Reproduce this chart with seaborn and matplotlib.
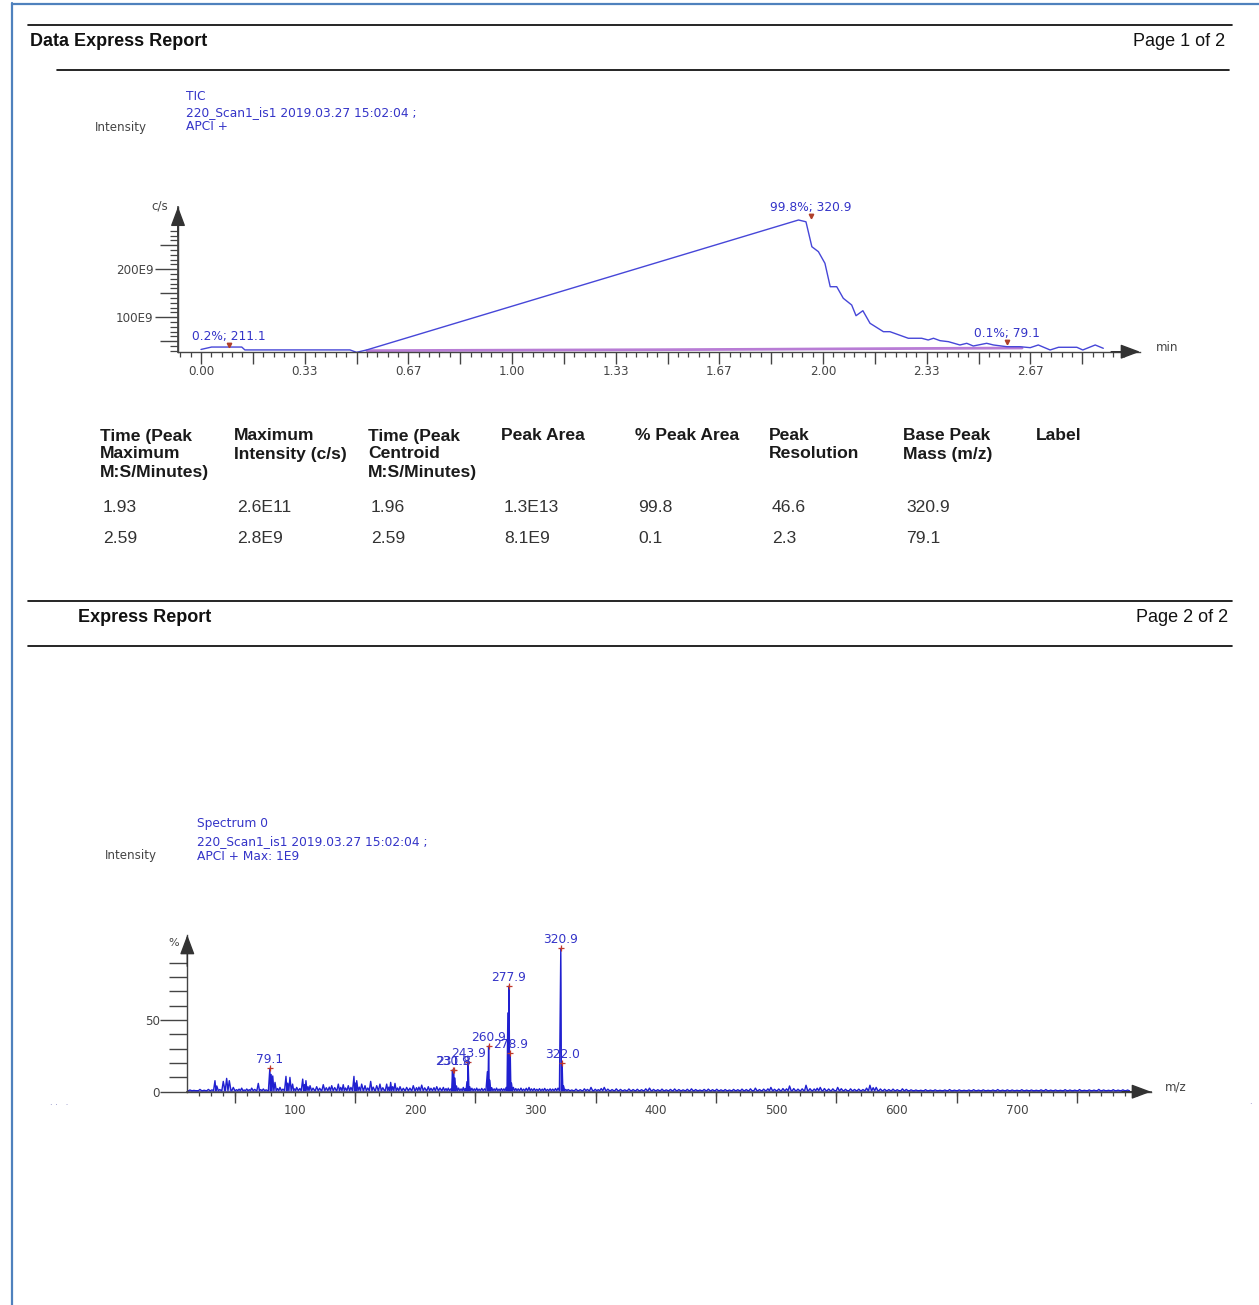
import numpy as np
import pandas as pd
import matplotlib
matplotlib.use("Agg")
import matplotlib.pyplot as plt
import seaborn as sns
from matplotlib.lines import Line2D
from matplotlib.ticker import FixedLocator, NullFormatter

# ---------------- data ----------------
# TIC chromatogram (time in min, intensity in units of 1E9 c/s)
tic_time = [0.00, 0.034, 0.131, 0.141, 0.479, 0.50, 0.533, 1.921, 1.945, 1.964,
            1.985, 2.006, 2.023, 2.044, 2.065, 2.092, 2.106, 2.128, 2.151, 2.194,
            2.215, 2.274, 2.317, 2.338, 2.355, 2.376, 2.403, 2.440, 2.462, 2.483,
            2.526, 2.548, 2.591, 2.633, 2.666, 2.692, 2.730, 2.757, 2.816, 2.835,
            2.875, 2.901]
tic_cps = [33, 38, 38, 32, 32, 27, 32, 302.7, 299, 247,
           236.7, 212.5, 163.7, 163.7, 139.6, 125.6, 103.3, 113.7, 87.5, 70,
           70, 56.3, 56.3, 52.7, 56.3, 51.3, 49.2, 42.3, 45.8, 40.2,
           45.8, 42.3, 38.7, 38.7, 36.7, 42.3, 31.9, 37.5, 37.5, 31.9,
           42.3, 35.4]
tic_base_time = [0.533, 1.0, 1.5, 1.85, 2.0, 2.3, 2.64]
tic_base_cps = [30.5, 31.5, 32.5, 33.5, 34.0, 35.0, 36.0]
tic_peak_time = [0.09, 1.96, 2.59]
tic_peak_cps = [42.3, 311.0, 48.5]
tic_peak_text = ["0.2%; 211.1", "99.8%; 320.9", "0.1%; 79.1"]
tic_xtick_labels = ["0.00", "0.33", "0.67", "1.00", "1.33", "1.67", "2.00", "2.33", "2.67"]
tic_ytick_values = [100, 200]
tic_ytick_labels = ["100E9", "200E9"]

# Mass spectrum (m/z, % relative intensity)
spec_low = [(12.7, 1.2), (16.0, 0.9), (21.0, 1.6), (24.5, 1.0), (28.0, 1.6), (31.0, 1.3),
            (33.5, 7.7), (35.0, 4.0), (37.5, 1.5), (40.4, 7.2), (43.2, 9.3), (45.4, 7.7),
            (48.7, 3.0), (51.5, 1.4), (53.5, 1.8), (55.7, 2.5), (57.8, 1.2), (59.9, 1.9),
            (62.0, 1.4), (64.0, 2.5), (66.5, 1.6), (69.5, 5.8), (71.5, 1.5), (73.7, 1.9),
            (76.0, 1.3), (79.1, 16.3), (80.2, 12.0), (81.5, 11.0), (83.4, 6.5), (85.5, 2.2),
            (87.5, 3.0), (90.0, 1.8), (92.5, 10.7), (94.0, 6.0), (95.8, 10.0), (98.0, 5.3),
            (99.8, 2.0)]
spec_mid = [(101.4, 3.0), (104.0, 2.2), (106.4, 8.8), (108.0, 5.0), (109.1, 7.7), (110.8, 3.5),
            (112.5, 4.2), (115.0, 2.5), (118.0, 3.5), (120.5, 2.4), (123.5, 4.9), (126.0, 2.8),
            (128.5, 3.2), (130.5, 4.2), (133.0, 2.9), (136.0, 5.3), (138.0, 3.0), (140.1, 4.9),
            (142.0, 2.6), (144.3, 4.2), (146.5, 3.0), (149.0, 10.7), (150.2, 6.0), (151.3, 7.7),
            (153.4, 3.2), (155.4, 5.3), (158.2, 4.2), (160.5, 2.6), (162.9, 7.2), (165.0, 3.2),
            (167.9, 4.2), (170.6, 5.3), (173.0, 2.8), (176.2, 5.3), (178.0, 3.2), (179.5, 6.5),
            (181.2, 3.5), (183.1, 5.8), (185.2, 2.6), (187.3, 3.5), (190.0, 2.4), (192.8, 3.0),
            (195.5, 2.5), (198.3, 4.2), (201.0, 2.8), (203.0, 3.2), (205.3, 4.6), (207.8, 2.7),
            (210.8, 3.5), (213.0, 2.4), (215.5, 2.8), (217.8, 3.5), (220.5, 2.6), (223.3, 3.0),
            (225.5, 2.2), (227.4, 2.5), (229.5, 2.0), (230.9, 15.1), (231.8, 14.5), (232.9, 9.5),
            (234.2, 4.0), (236.0, 2.5), (238.0, 2.0), (239.9, 3.0), (241.5, 2.2), (242.9, 7.0),
            (243.9, 21.0), (245.2, 3.5), (247.0, 2.4), (249.0, 2.0)]
spec_main = [(251.0, 2.5), (253.0, 1.8), (255.2, 2.3), (257.5, 2.0), (259.9, 14.0), (260.9, 31.8),
             (261.9, 8.0), (263.5, 2.8), (265.5, 2.0), (267.5, 2.5), (269.6, 1.8), (271.5, 2.2),
             (273.6, 2.0), (275.5, 3.0), (276.9, 55.0), (277.9, 73.8), (278.9, 26.8), (279.9, 6.0),
             (281.5, 3.0), (283.5, 2.2), (285.5, 2.0), (287.8, 2.5), (290.0, 1.8), (292.2, 2.4),
             (294.5, 3.0), (296.5, 2.0), (298.8, 2.2), (301.0, 1.7), (303.2, 2.1), (305.5, 1.8),
             (307.5, 2.3), (309.8, 1.6), (312.0, 2.0), (314.2, 1.8), (316.5, 2.2), (318.6, 2.5),
             (320.9, 100.0), (322.0, 20.2), (323.2, 4.0), (325.0, 1.6)]
spec_high = [(327, 1.5), (330, 1.2), (333.5, 1.8), (337, 1.4), (340.5, 2.0), (343, 1.6), (346, 3.0),
             (349.5, 1.7), (352, 1.4), (354.5, 2.2), (357, 3.0), (360, 1.8), (363.5, 1.5), (367, 2.0),
             (370.5, 1.6), (374, 1.3), (377.5, 1.9), (381, 1.5), (384.5, 1.7), (388, 1.4), (391.5, 2.0),
             (394.6, 2.5), (398, 1.6), (401.5, 1.4), (405, 1.8), (408.5, 1.3), (412, 1.6), (415.5, 1.9),
             (419, 1.5), (422.5, 1.3), (426, 1.7), (429.5, 2.0), (433, 1.5), (436.5, 1.2), (440, 1.6),
             (443.5, 1.8), (447, 1.4), (450.5, 1.7), (454, 1.3), (457.5, 1.5), (461, 1.2), (464.5, 1.6),
             (468, 1.4), (471.5, 1.8), (475, 1.5), (478.5, 2.0), (482.6, 2.5), (486, 1.5), (489.5, 1.8),
             (493, 2.0), (495.5, 3.0), (498.5, 1.7), (502, 1.9), (505.5, 2.2), (508.5, 2.0), (511, 4.0),
             (514.5, 2.2), (518, 1.8), (521.5, 2.0), (524.7, 4.5), (528, 2.1), (531.5, 1.9), (534, 2.4),
             (536.5, 3.0), (540, 2.2), (543.5, 1.9), (547, 2.0), (551, 3.0), (554, 2.1), (557.5, 1.7),
             (561.7, 2.0), (565, 1.6), (568.5, 1.8), (572, 1.5), (575, 2.5), (577.8, 4.5), (580.5, 2.8),
             (583, 3.0), (586.5, 1.9), (590, 1.7), (593.5, 1.5), (597, 1.8), (600.5, 1.4), (604.8, 2.0),
             (608, 1.6), (612, 1.3), (616, 1.2), (620, 1.0), (624, 1.4), (628, 1.1), (632, 1.3),
             (636, 1.0), (640, 1.2), (644, 1.5), (648, 1.1), (652, 1.3), (656, 1.0), (660, 1.2),
             (664, 1.4), (668, 1.1), (672, 1.3), (676, 1.0), (680, 1.2), (684, 1.5), (688, 1.1),
             (692, 1.3), (696, 1.2), (700, 1.0), (704, 1.4), (708, 1.1), (712, 1.2), (716, 1.0),
             (720, 1.3), (724, 1.5), (728, 1.1), (732, 1.2), (736, 1.0), (740, 1.4), (744, 1.2),
             (748, 1.1), (752, 1.5), (756, 1.0), (760, 1.3), (764, 1.1), (768, 1.6), (772, 1.2),
             (776, 1.0), (780, 1.4), (784, 1.1), (788, 1.3), (792, 1.2)]
spec_label_mz = [79.1, 230.9, 231.8, 243.9, 260.9, 277.9, 278.9, 320.9, 322.0]
spec_label_pct = [16.3, 15.1, 15.1, 21.0, 31.8, 73.8, 26.8, 100.0, 20.2]
spec_label_text = ["79.1", "230.9", "231.8", "243.9", "260.9", "277.9", "278.9", "320.9", "322.0"]
spec_xtick_values = [100, 200, 300, 400, 500, 600, 700]
spec_xtick_labels = ["100", "200", "300", "400", "500", "600", "700"]
spec_ytick_values = [0, 50]
spec_ytick_labels = ["0", "50"]

# Peak table
table_headers = [["Time (Peak", "Maximum", "M:S/Minutes)"],
                 ["Maximum", "Intensity (c/s)"],
                 ["Time (Peak", "Centroid", "M:S/Minutes)"],
                 ["Peak Area"],
                 ["% Peak Area"],
                 ["Peak", "Resolution"],
                 ["Base Peak", "Mass (m/z)"],
                 ["Label"]]
table_rows = [["1.93", "2.6E11", "1.96", "1.3E13", "99.8", "46.6", "320.9", ""],
              ["2.59", "2.8E9", "2.59", "8.1E9", "0.1", "2.3", "79.1", ""]]

# ---------------- figure ----------------
sns.set_theme(style="white")
plt.rcParams["font.family"] = ["DejaVu Sans"]

W, H = 1259, 1305
fig = plt.figure(figsize=(W / 100, H / 100), dpi=100)
fig.patch.set_facecolor("white")


def fx(x):
    return x / W


def fy(y):
    return 1 - y / H


def add_axes_px(l, t, r, b):
    return fig.add_axes([fx(l), fy(b), (r - l) / W, (b - t) / H])


def hline(y, x0, x1, color="black", lw=1.2):
    fig.add_artist(Line2D([fx(x0), fx(x1)], [fy(y), fy(y)], color=color, lw=lw,
                          transform=fig.transFigure))


def vline(x, y0, y1, color="black", lw=1.2):
    fig.add_artist(Line2D([fx(x), fx(x)], [fy(y0), fy(y1)], color=color, lw=lw,
                          transform=fig.transFigure))


def ftext(x, y, s, **kw):
    fig.text(fx(x), fy(y), s, **kw)


BLUE_TXT = "#3434c8"
AX_COL = "#444444"
HDR_FONT = ["Liberation Sans", "DejaVu Sans"]

# page border and report headers
vline(12, 3, 1305, color="#4f81bd", lw=1.6)
hline(4, 12, 1259, color="#4f81bd", lw=1.6)

hline(25, 28, 1232)
ftext(30, 42, "Data Express Report", fontsize=13, fontweight="bold", family=HDR_FONT,
      va="center", ha="left", color="#111111")
ftext(1225, 42, "Page 1 of 2", fontsize=13, family=HDR_FONT, va="center", ha="right",
      color="#111111")
hline(70, 57, 1229)

hline(601, 28, 1232)
ftext(78, 618, "Express Report", fontsize=13, fontweight="bold", family=HDR_FONT,
      va="center", ha="left", color="#111111")
ftext(1228, 618, "Page 2 of 2", fontsize=13, family=HDR_FONT, va="center", ha="right",
      color="#111111")
hline(646, 28, 1232)

# chart captions
ftext(186, 96, "TIC", fontsize=8.8, color=BLUE_TXT, va="center")
ftext(186, 113, "220_Scan1_is1 2019.03.27 15:02:04 ;", fontsize=8.8, color=BLUE_TXT, va="center")
ftext(186, 127, "APCI +", fontsize=8.8, color=BLUE_TXT, va="center")
ftext(95, 128, "Intensity", fontsize=8.6, color="#444444", va="center")
ftext(160, 206, "c/s", fontsize=8.6, color="#444444", va="center", ha="center")
ftext(1156, 348, "min", fontsize=8.6, color="#444444", va="center", ha="left")

ftext(197, 824, "Spectrum 0", fontsize=8.8, color=BLUE_TXT, va="center")
ftext(197, 842, "220_Scan1_is1 2019.03.27 15:02:04 ;", fontsize=8.8, color=BLUE_TXT, va="center")
ftext(197, 856, "APCI + Max: 1E9", fontsize=8.8, color=BLUE_TXT, va="center")
ftext(105, 856, "Intensity", fontsize=8.6, color="#444444", va="center")
ftext(174, 943, "%", fontsize=8, color="#444444", va="center", ha="center")
ftext(1165, 1087, "m/z", fontsize=8.6, color="#444444", va="center", ha="left")
ftext(50, 1105, "\u00b7 \u00b7   \u00b7", fontsize=6, color="#7777bb", va="center")
ftext(1249, 1105, "\u00b7", fontsize=6, color="#7777bb", va="center")

# table
col_x = [100, 234, 368, 501, 635, 769, 903, 1036]
for cx, lines in zip(col_x, table_headers):
    for i, s in enumerate(lines):
        ftext(cx, 436 + 18 * i, s, fontsize=12.6, fontweight="bold", family=HDR_FONT,
              va="center", ha="left", color="#1a1a1a")
for r, row in enumerate(table_rows):
    for cx, s in zip(col_x, row):
        ftext(cx + 3, 508 + 30 * r, s, fontsize=12.6, family=HDR_FONT, va="center",
              ha="left", color="#333333")


def style_axes(ax):
    ax.patch.set_alpha(0)
    for side in ("top", "right"):
        ax.spines[side].set_visible(False)
    for side in ("left", "bottom"):
        ax.spines[side].set_color(AX_COL)
        ax.spines[side].set_linewidth(1.0)
    ax.grid(False)
    ax.set_xlabel("")
    ax.set_ylabel("")
    kw = dict(arrowstyle="-|>,head_length=1.2,head_width=0.45", mutation_scale=10,
              color="#333333", lw=1, shrinkA=0, shrinkB=0)
    ax.annotate("", xy=(0, 1), xycoords="axes fraction", xytext=(0, 0.8),
                textcoords="axes fraction", arrowprops=kw, annotation_clip=False)
    ax.annotate("", xy=(1, 0), xycoords="axes fraction", xytext=(0.97, 0),
                textcoords="axes fraction", arrowprops=kw, annotation_clip=False)


# ---------------- TIC chromatogram ----------------
ax1 = add_axes_px(178, 206.7, 1140, 351.7)
tic_df = pd.DataFrame({"time": tic_time, "cps": tic_cps})
base_df = pd.DataFrame({"time": tic_base_time, "cps": tic_base_cps})
sns.lineplot(data=base_df, x="time", y="cps", ax=ax1, color="#a050c8", lw=2.0, alpha=0.75,
             sort=False, estimator=None)
sns.lineplot(data=tic_df, x="time", y="cps", ax=ax1, color="#4646d8", lw=1.0,
             sort=False, estimator=None)
ax1.set_xlim(-0.074, 3.019)
ax1.set_ylim(28.3, 330.4)
style_axes(ax1)

major_x = [k / 6 for k in range(0, 18)]
major_lbl = []
for k in range(0, 18):
    major_lbl.append(tic_xtick_labels[k // 2] if k % 2 == 0 and k // 2 < len(tic_xtick_labels) else "")
ax1.set_xticks(major_x, major_lbl)
ax1.xaxis.set_minor_locator(FixedLocator([k / 30 for k in range(-2, 90)]))
ax1.tick_params(axis="x", which="major", direction="out", length=8.4, width=1, color=AX_COL,
                bottom=True, pad=1.2, labelsize=8.6, labelcolor="#444444")
ax1.tick_params(axis="x", which="minor", direction="out", length=3.6, width=0.9, color=AX_COL,
                bottom=True)

ax1.yaxis.set_major_locator(FixedLocator([50, 150, 250]))
ax1.yaxis.set_major_formatter(NullFormatter())
ax1.yaxis.set_minor_locator(FixedLocator([v for v in range(30, 290, 10) if v % 50]))
ax1.tick_params(axis="y", which="major", direction="out", length=12.7, width=1, color=AX_COL, left=True)
ax1.tick_params(axis="y", which="minor", direction="out", length=6.0, width=0.9, color=AX_COL, left=True)
sec1 = ax1.secondary_yaxis("left")
sec1.set_yticks(tic_ytick_values, tic_ytick_labels)
sec1.tick_params(axis="y", direction="out", length=16.5, width=1, color=AX_COL, pad=1,
                 labelsize=8.6, labelcolor="#444444")
sec1.spines["left"].set_color(AX_COL)

ax1.plot(tic_peak_time, tic_peak_cps, ls="none", marker="v", ms=3.2, color="#b0402a", clip_on=False)
for t, v, s in zip(tic_peak_time, tic_peak_cps, tic_peak_text):
    ax1.annotate(s, xy=(t, v), xytext=(0, 1.5), textcoords="offset points", ha="center",
                 va="bottom", fontsize=8.8, color=BLUE_TXT, annotation_clip=False)

# ---------------- Mass spectrum ----------------
ax2 = add_axes_px(187.3, 935, 1151, 1091.7)
peaks = np.array(spec_low + spec_mid + spec_main + spec_high)
order = np.argsort(peaks[:, 0])
pmz, ppct = peaks[order, 0], peaks[order, 1]
gaps = np.diff(pmz)
lg = np.r_[2.0, gaps]
rg = np.r_[gaps, 2.0]
hw_left = np.minimum(1.2, 0.5 * lg)
hw_right = np.minimum(1.4, 0.5 * rg)
base = 0.7
prof_x = np.column_stack([pmz - hw_left, pmz, pmz + hw_right]).ravel()
prof_y = np.column_stack([np.full_like(ppct, base), ppct, np.full_like(ppct, base)]).ravel()
prof_x = np.r_[pmz[0] - 1.5, prof_x, pmz[-1] + 1.5]
prof_y = np.r_[base, prof_y, base]
spec_df = pd.DataFrame({"mz": prof_x, "pct": prof_y})
ax2.fill_between(prof_x, 0, prof_y, color="#6a6ae0", alpha=0.4, lw=0)
sns.lineplot(data=spec_df, x="mz", y="pct", ax=ax2, color="#2020d0", lw=1.0,
             sort=False, estimator=None)
ax2.set_xlim(10.5, 811.4)
ax2.set_ylim(0, 109.4)
style_axes(ax2)

ax2.set_xticks(spec_xtick_values, spec_xtick_labels)
ax2.xaxis.set_minor_locator(FixedLocator(list(range(20, 801, 10))))
ax2.tick_params(axis="x", which="major", direction="out", length=3.0, width=0.9, color=AX_COL,
                bottom=True, pad=5.6, labelsize=8.6, labelcolor="#444444")
ax2.tick_params(axis="x", which="minor", direction="out", length=3.0, width=0.9, color=AX_COL,
                bottom=True)
sec2x = ax2.secondary_xaxis("bottom")
sec2x.set_xticks(list(range(50, 800, 100)))
sec2x.xaxis.set_major_formatter(NullFormatter())
sec2x.tick_params(axis="x", direction="out", length=7.7, width=1, color=AX_COL)
sec2x.spines["bottom"].set_color(AX_COL)

ax2.set_yticks(spec_ytick_values, spec_ytick_labels)
ax2.yaxis.set_minor_locator(FixedLocator([10, 20, 30, 40, 60, 70, 80, 90]))
ax2.tick_params(axis="y", which="major", direction="out", length=19.4, width=1, color=AX_COL,
                left=True, pad=0.5, labelsize=8.6, labelcolor="#444444")
ax2.tick_params(axis="y", which="minor", direction="out", length=13.0, width=1, color=AX_COL,
                left=True)

ax2.plot(spec_label_mz, spec_label_pct, ls="none", marker="+", ms=4.5, mew=0.9,
         color="#c0392b", clip_on=False)
for m, p, s in zip(spec_label_mz, spec_label_pct, spec_label_text):
    ax2.annotate(s, xy=(m, p), xytext=(0, 1.5), textcoords="offset points", ha="center",
                 va="bottom", fontsize=8.8, color=BLUE_TXT, annotation_clip=False)

fig.savefig("out.png", dpi=100, facecolor="white")
